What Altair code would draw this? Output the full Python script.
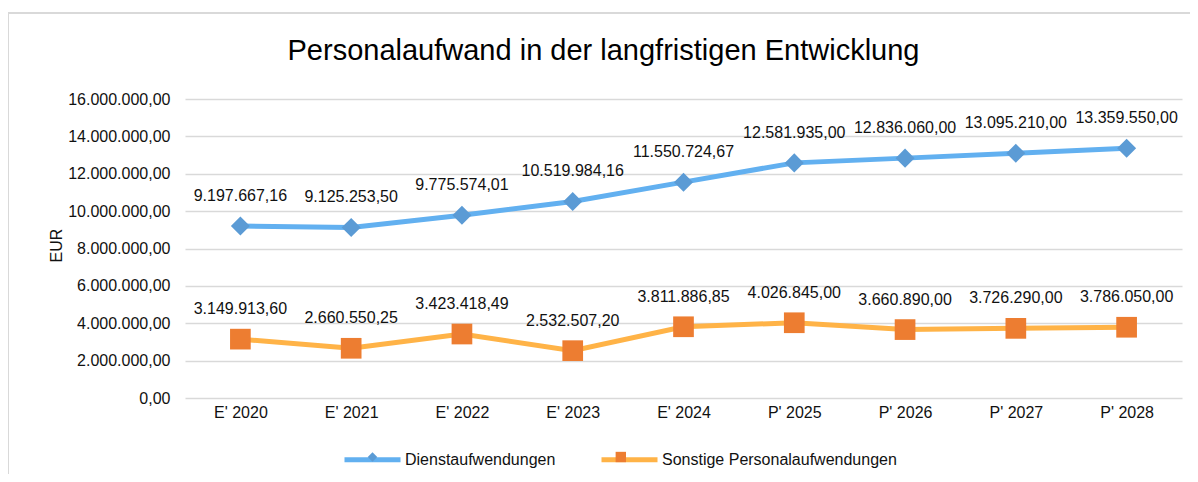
import altair as alt
import pandas as pd

title_text = "Personalaufwand in der langfristigen Entwicklung"
categories = ["E' 2020", "E' 2021", "E' 2022", "E' 2023", "E' 2024",
              "P' 2025", "P' 2026", "P' 2027", "P' 2028"]
dienst = [9197667.16, 9125253.50, 9775574.01, 10519984.16, 11550724.67,
          12581935.00, 12836060.00, 13095210.00, 13359550.00]
sonstige = [3149913.60, 2660550.25, 3423418.49, 2532507.20, 3811886.85,
            4026845.00, 3660890.00, 3726290.00, 3786050.00]
series_names = ["Dienstaufwendungen", "Sonstige Personalaufwendungen"]
marker_keys = ["D", "S"]
y_ticks = [0, 2000000, 4000000, 6000000, 8000000, 10000000, 12000000, 14000000, 16000000]

rows = []
for name, key, vals in zip(series_names, marker_keys, [dienst, sonstige]):
    for c, v in zip(categories, vals):
        rows.append({"Jahr": c, "Wert": v, "Serie": name, "Marker": key})
df = pd.DataFrame(rows)

FONT = "Liberation Sans"
line_colors = ["#62B0F0", "#FFB347"]
marker_colors = ["#5B9BD5", "#ED7D31"]
diamond = "M0,-0.17L0.17,0L0,0.17L-0.17,0Z"
square = "M-0.185,-0.185H0.185V0.185H-0.185Z"

x_enc = alt.X("Jahr:N", sort=categories,
              scale=alt.Scale(type="point", padding=0.5),
              axis=alt.Axis(title=None, labelAngle=0, ticks=False, domain=False,
                            labelPadding=6, labelFontSize=16, labelFont=FONT,
                            labelColor="#111", grid=False))
y_enc = alt.Y("Wert:Q", scale=alt.Scale(domain=[0, 16000000], nice=False),
              axis=alt.Axis(title="EUR", values=y_ticks, format=",.2f",
                            ticks=False, domain=False, labelPadding=15,
                            labelFontSize=16, labelFont=FONT, labelColor="#111",
                            gridColor="#D9D9D9", gridWidth=1.5,
                            titleFont=FONT, titleFontSize=16, titleFontWeight="normal",
                            titleColor="#111", titleX=-129, titleY=146,
                            titleAngle=270, titleAlign="center", titleBaseline="middle"))

legend_common = dict(orient="none", legendY=330, direction="horizontal",
                     title=None, symbolSize=3136, labelFontSize=16, labelFont=FONT,
                     labelOffset=2, labelLimit=0)

base = alt.Chart(df)

lines = base.mark_line(strokeWidth=5).encode(
    x=x_enc, y=y_enc,
    color=alt.Color("Serie:N", sort=series_names,
                    scale=alt.Scale(domain=series_names, range=line_colors),
                    legend=alt.Legend(symbolType="stroke", symbolStrokeWidth=5,
                                      labelColor="#111", columnPadding=35,
                                      legendX=157, **legend_common)),
)

# marker legend: no label text; gap widened by the first label and stroke width
marker_legend = alt.Legend(symbolStrokeWidth=0, symbolOpacity=1, labelExpr="''",
                           columnPadding=35 + 5 + 150.3, legendX=159.5,
                           **legend_common)
points = base.mark_point(filled=True, opacity=1, size=12500, strokeWidth=0).encode(
    x=x_enc, y=y_enc,
    fill=alt.Fill("Marker:N", sort=marker_keys,
                  scale=alt.Scale(domain=marker_keys, range=marker_colors),
                  legend=marker_legend),
    shape=alt.Shape("Marker:N", sort=marker_keys,
                    scale=alt.Scale(domain=marker_keys, range=[diamond, square]),
                    legend=marker_legend),
)

labels = base.mark_text(dy=-30, fontSize=16, font=FONT, color="#111").encode(
    x=x_enc, y=y_enc,
    text=alt.Text("Wert:Q", format=",.2f"),
)

frame_df = pd.DataFrame({"k": [0]})
frame_top = alt.Chart(frame_df).mark_rule(color="#D9D9D9", strokeWidth=2).encode(
    x=alt.value(-177), x2=alt.value(1005), y=alt.value(-86))
frame_left = alt.Chart(frame_df).mark_rule(color="#D9D9D9", strokeWidth=2).encode(
    x=alt.value(-177), y=alt.value(-86), y2=alt.value(383))

title_df = pd.DataFrame({"t": [title_text]})
title = alt.Chart(title_df).mark_text(fontSize=29, font=FONT, color="#000",
                                      align="center", baseline="alphabetic").encode(
    x=alt.value(418.5), y=alt.value(-39), text="t:N")

chart = alt.layer(frame_top, frame_left, title, lines, points, labels).properties(
    width=997, height=299,
    autosize=alt.AutoSizeParams(type="none"),
    padding={"left": 177, "top": 91, "right": 8, "bottom": 76},
).configure_view(stroke=None)

chart.save("out.html", embed_options={
    "renderer": "svg", "actions": False,
    "formatLocale": {"decimal": ",", "thousands": ".", "grouping": [3],
                     "currency": ["", " €"]},
})
